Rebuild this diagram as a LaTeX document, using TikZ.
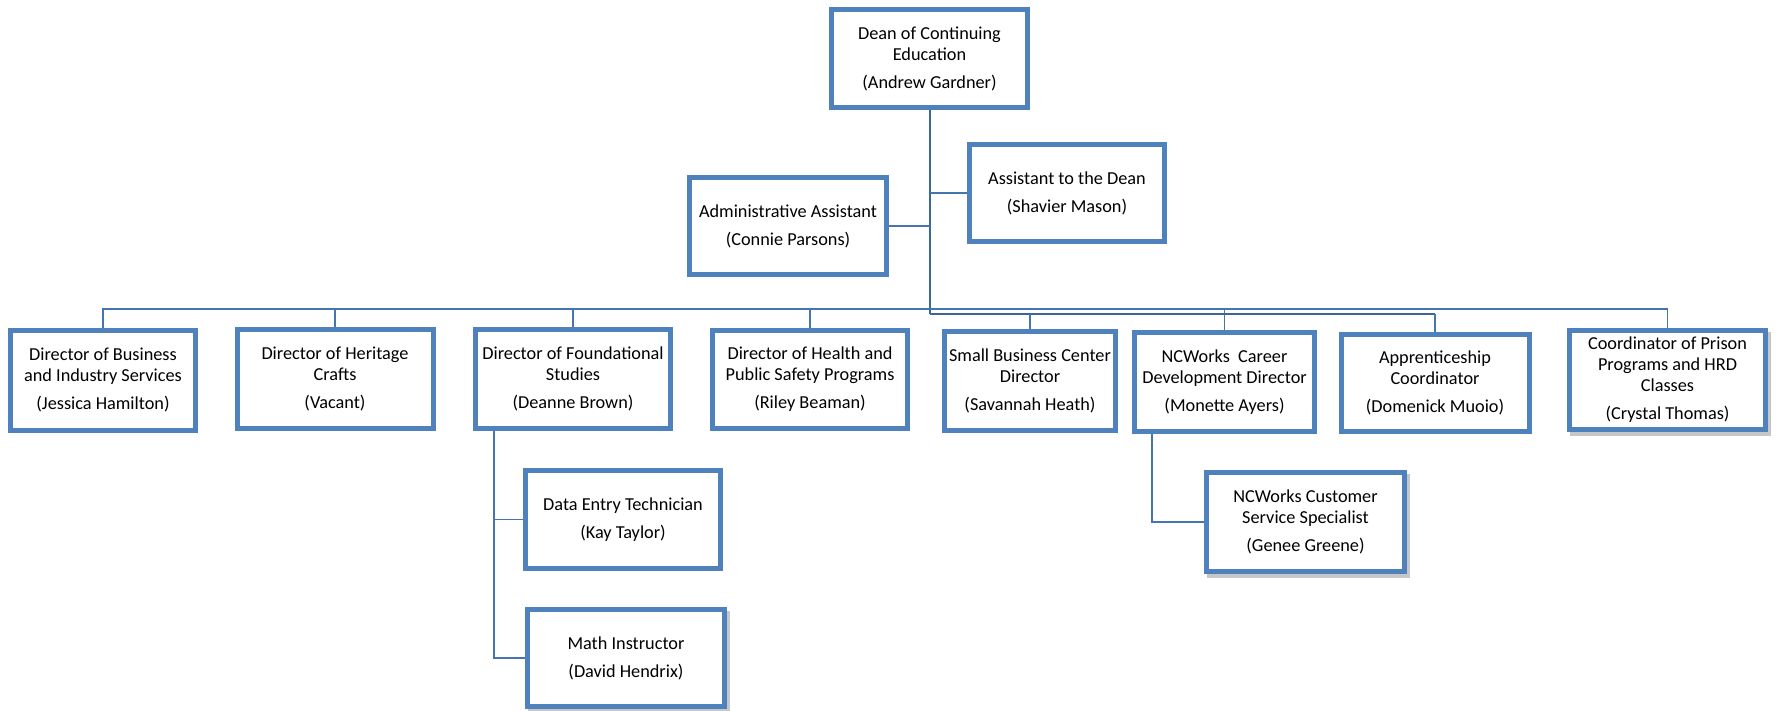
\documentclass[tikz,border=0pt]{standalone}
\usepackage{fontspec}
\setmainfont{Carlito}
\usetikzlibrary{shadows,backgrounds}
\definecolor{boxblue}{HTML}{4F81BD}
\definecolor{linkblue}{HTML}{4674AE}
\definecolor{trunkblue}{HTML}{3B659C}
\begin{document}
\begin{tikzpicture}[x=0.75pt,y=-0.75pt,
  box/.style={draw=boxblue, line width=3.75pt, fill=white, align=center,
    inner sep=0pt, font=\fontsize{13.7}{15.7}\selectfont},
  sz/.style n args={2}{minimum width={(#1-5)*0.75pt}, minimum height={(#2-5)*0.75pt}},
  withshadow/.style={general shadow={shadow xshift=2pt, shadow yshift=-3pt, fill=black!22, draw=black!22, line width=3.75pt}},
  link/.style={draw=linkblue, line width=1.1pt},
  trunk/.style={draw=trunkblue, line width=1.5pt}]
\useasboundingbox (0,0) rectangle (1776,710);
\newcommand{\nm}[1]{\\[5.3pt]#1}
% top
\node[box, sz={201}{103}] (dean) at (929.5,58.5) {Dean of Continuing\\Education\nm{(Andrew Gardner)}};
\node[box, sz={200}{102}] (asst) at (1067,193) {Assistant to the Dean\nm{(Shavier Mason)}};
\node[box, sz={202}{102}] (admin) at (788,226) {Administrative Assistant\nm{(Connie Parsons)}};
% second row
\node[box, sz={190}{105}] (b1) at (103,380) {Director of Business\\and Industry Services\nm{(Jessica Hamilton)}};
\node[box, sz={201}{104}] (b2) at (335,379) {Director of Heritage\\Crafts\nm{(Vacant)}};
\node[box, sz={200}{104}] (b3) at (573,379) {Director of Foundational\\Studies\nm{(Deanne Brown)}};
\node[box, sz={200}{103}] (b4) at (810,379.5) {Director of Health and\\Public Safety Programs\nm{(Riley Beaman)}};
\node[box, sz={176}{104}] (b5) at (1030,381) {Small Business Center\\Director\nm{(Savannah Heath)}};
\node[box, sz={185}{104}] (b6) at (1224.5,382) {NCWorks\ \ Career\\Development Director\nm{(Monette Ayers)}};
\node[box, sz={193}{102}] (b7) at (1435,383) {Apprenticeship\\Coordinator\nm{(Domenick Muoio)}};
\node[box, withshadow, sz={201}{104}] (b8) at (1667.5,380) {Coordinator of Prison\\Programs and HRD\\Classes\nm{(Crystal Thomas)}};
% third level
\node[box, sz={200}{103}] (data) at (623,519.5) {Data Entry Technician\nm{(Kay Taylor)}};
\node[box, withshadow, sz={202}{102}] (math) at (626,658) {Math Instructor\nm{(David Hendrix)}};
\node[box, withshadow, sz={203}{104}] (ncc) at (1305.5,522) {NCWorks Customer\\Service Specialist\nm{(Genee Greene)}};
% connectors
\coordinate (busA) at (0,309);
\coordinate (busB) at (0,313.5);
\coordinate (b3c) at (494,0);
\coordinate (b6c) at (1152,0);
\begin{pgfonlayer}{background}
\draw[trunk] (dean.south) -- (dean.south |- busB);
\draw[link] (admin.east) -- (admin.east -| dean.south);
\draw[link] (asst.west) -- (asst.west -| dean.south);
\draw[link] (b1.north) -- (b1.north |- busA) -- (b8.north |- busA) -- (b8.north);
\draw[link] (b2.north) -- (b2.north |- busA);
\draw[link] (b3.north) -- (b3.north |- busA);
\draw[link] (b4.north) -- (b4.north |- busA);
\draw[link] (b6.north) -- (b6.north |- busA);
\draw[trunk] (dean.south |- busB) -- (b7.north |- busB);
\draw[link] (b7.north |- busB) -- (b7.north);
\draw[link] (b5.north) -- (b5.north |- busB);
\draw[link] (b3.south -| b3c) -- (b3c |- math.west) -- (math.west);
\draw[link] (b3c |- data.west) -- (data.west);
\draw[link] (b6.south -| b6c) -- (b6c |- ncc.west) -- (ncc.west);
\end{pgfonlayer}
\end{tikzpicture}
\end{document}
